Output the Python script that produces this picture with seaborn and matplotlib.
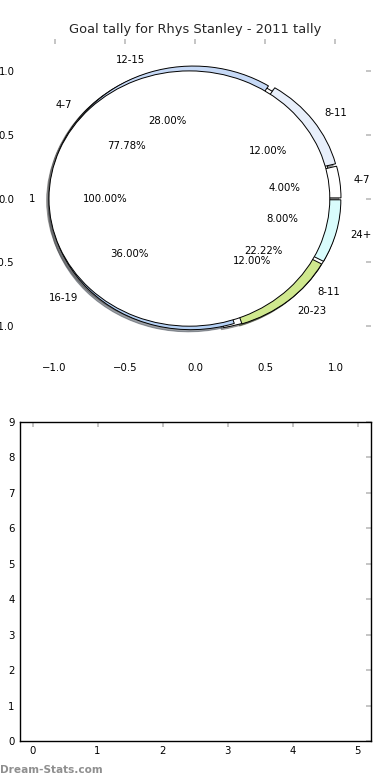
import matplotlib
matplotlib.use("Agg")
import matplotlib.pyplot as plt
import seaborn as sns

# ---- data ----
title = "Goal tally for Rhys Stanley - 2011 tally"
# under-layer pie
sub_labels = ["4-7", "8-11"]
sub_values = [7, 2]
# main ring
ring_labels = ["4-7", "8-11", "12-15", "16-19", "20-23", "24+"]
ring_values = [1, 3, 7, 9, 3, 2]
ring_colors = ["#ffffff", "#e8effb", "#c6d9f6", "#b6d2f6", "#cfe88e", "#d9fcfc"]
# top pie
top_labels = ["1"]
top_values = [1]

bar_xticks = [0, 1, 2, 3, 4, 5]
bar_yticks = [0, 1, 2, 3, 4, 5, 6, 7, 8, 9]

sns.set_theme(style="white")
plt.rcParams.update({
    "font.family": ["DejaVu Sans"],
    "xtick.direction": "in",
    "ytick.direction": "in",
    "xtick.top": True,
    "ytick.right": True,
    "xtick.color": "#bbbbbb",
    "ytick.color": "#bbbbbb",
    "xtick.labelcolor": "black",
    "ytick.labelcolor": "black",
    "xtick.major.size": 3.5,
    "ytick.major.size": 3.5,
    "xtick.major.width": 1.2,
    "ytick.major.width": 1.2,
    "xtick.labelsize": 7.3,
    "ytick.labelsize": 7.3,
    "axes.edgecolor": "black",
    "axes.linewidth": 1.0,
})

fig, (ax1, ax2) = plt.subplots(2, 1, figsize=(3.9, 7.8), dpi=100)
fig.subplots_adjust(left=0.05, right=0.95, top=0.95, bottom=0.05, hspace=0.2)

wp = dict(edgecolor="black", linewidth=0.7)
tp = dict(fontsize=7.3, color="black")
shadow = {"ox": -0.012, "oy": -0.012}

ax1.pie(sub_values, labels=sub_labels, colors=["white", "white"],
        explode=[0.04] * len(sub_values), shadow=shadow, startangle=0,
        autopct="%.2f%%", wedgeprops=wp, textprops=tp)
ax1.pie(ring_values, labels=ring_labels, colors=ring_colors,
        explode=[0.04] * len(ring_values), shadow=shadow, startangle=0,
        autopct="%.2f%%", wedgeprops=wp, textprops=tp)
ax1.pie(top_values, labels=top_labels, colors=["white"],
        explode=[0.04], shadow=shadow, startangle=0,
        autopct="%.2f%%", wedgeprops=wp, textprops=tp)

ax1.set_aspect("auto")
ax1.set_frame_on(False)
ax1.set_xlim(-1.25, 1.25)
ax1.set_ylim(-1.25, 1.25)
ax1.set_xticks([-1.0, -0.5, 0.0, 0.5, 1.0])
ax1.set_yticks([-1.0, -0.5, 0.0, 0.5, 1.0])
ax1.tick_params(top=True, right=True, labeltop=False, labelright=False)
ax1.set_title(title, fontsize=9.4, pad=4)

ax2.set_xlim(-0.2, 5.2)
ax2.set_ylim(0, 9)
ax2.set_xticks(bar_xticks)
ax2.set_yticks(bar_yticks)
for s in ax2.spines.values():
    s.set_visible(True)
    s.set_color("black")
ax2.tick_params(top=True, right=True)

fig.text(0.0, 0.006, "Dream-Stats.com", color="#8f8f8f", fontsize=7.6,
         fontweight="bold", ha="left", va="bottom")

fig.savefig("out.png", dpi=100)
